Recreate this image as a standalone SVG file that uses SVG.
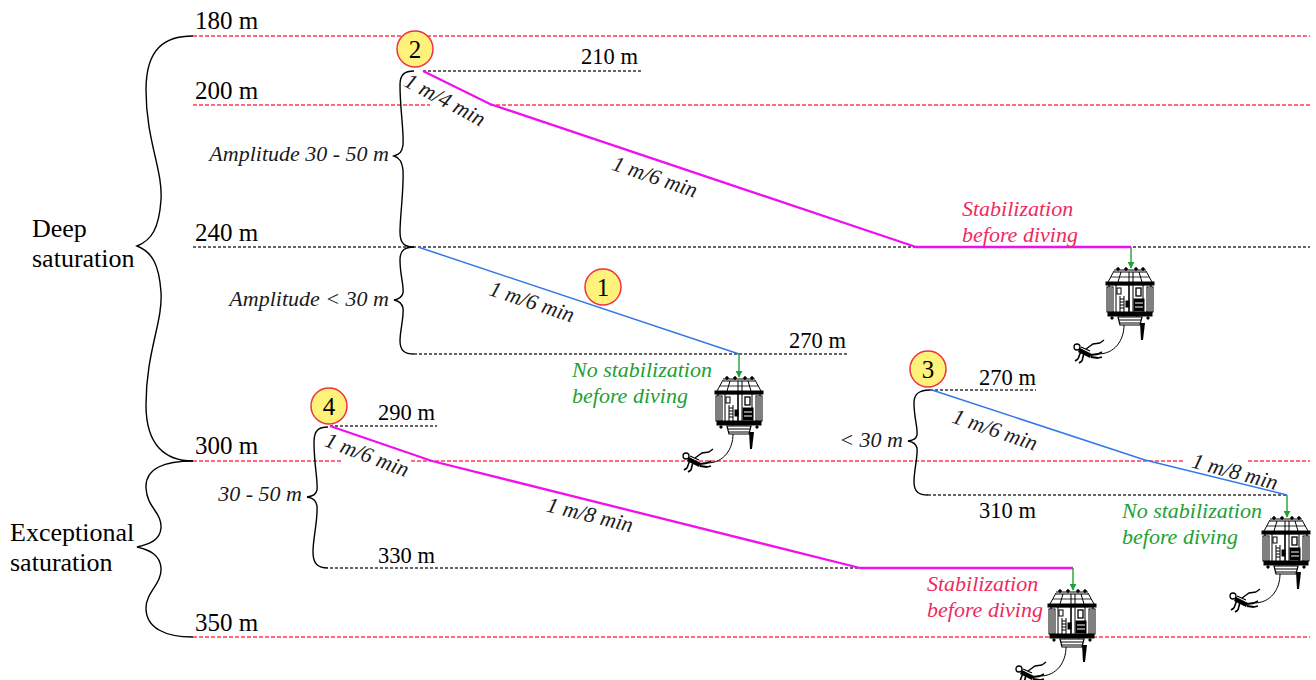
<svg xmlns="http://www.w3.org/2000/svg" xmlns:xlink="http://www.w3.org/1999/xlink" width="1316" height="680" viewBox="0 0 1316 680">
  <style>
    .depth { font-family: "Liberation Serif", "Times New Roman", serif; font-size: 25px; fill: #000; }
    .depth-s { font-family: "Liberation Serif", "Times New Roman", serif; font-size: 22.5px; fill: #000; text-anchor: end; }
    .zone { font-family: "Liberation Serif", "Times New Roman", serif; font-size: 26px; fill: #000; }
    .ital { font-family: "Liberation Serif", "Times New Roman", serif; font-size: 22px; font-style: italic; fill: #1a1a1a; }
    .rate { font-family: "Liberation Serif", "Times New Roman", serif; font-size: 22px; font-style: italic; fill: #1a1a1a; text-anchor: middle; }
    .stab { font-family: "Liberation Serif", "Times New Roman", serif; font-size: 22px; font-style: italic; fill: #EE2A5E; }
    .nostab { font-family: "Liberation Serif", "Times New Roman", serif; font-size: 22px; font-style: italic; fill: #22A032; }
    .red-dash { stroke: #FF3A55; stroke-width: 1.3; stroke-dasharray: 4 2; fill: none; }
    .blk-dash { stroke: #333; stroke-width: 1.3; stroke-dasharray: 3 2; fill: none; }
    .brace { stroke: #000; stroke-width: 1.4; fill: none; }
    .magenta { stroke: #EE11EE; stroke-width: 2.3; fill: none; stroke-linejoin: round; }
    .blue { stroke: #3377EE; stroke-width: 1.5; fill: none; stroke-linejoin: round; }
    .drop { stroke: #22A032; stroke-width: 1.4; fill: none; marker-end: url(#arrow-green); }
    .badge circle { fill: #FFF27A; stroke: #F03040; stroke-width: 1.5; }
    .badge text { font-family: "Liberation Serif", "Times New Roman", serif; font-size: 25px; fill: #000; text-anchor: middle; }
  </style>
  <defs>
    <marker id="arrow-green" viewBox="0 0 10 10" refX="9" refY="5" markerWidth="7" markerHeight="7" markerUnits="userSpaceOnUse" orient="auto">
      <path d="M0,0 L10,5 L0,10 Z" fill="#22A032"/>
    </marker>
    <!-- diving bell with a tethered diver; origin = top attachment point -->
    <g id="bell-icon" stroke="#000" fill="none" stroke-width="1">
      <!-- top frame -->
      <path d="M-17,2 H15 M-17,4 H15" stroke-width="1.2"/>
      <circle cx="-13" cy="1" r="1.3" fill="#000"/>
      <circle cx="-5" cy="1" r="1.3" fill="#000"/>
      <circle cx="5" cy="1" r="1.3" fill="#000"/>
      <circle cx="12" cy="1" r="1.3" fill="#000"/>
      <path d="M-17,3 L-23,14 M15,3 L21,14 M-10,4 L-13,14 M8,4 L11,14 M-2,4 V14 M2,4 V14"/>
      <path d="M-20,9 H18" stroke-width="0.8"/>
      <!-- rim -->
      <rect x="-25" y="14" width="48" height="3" fill="#000"/>
      <!-- body -->
      <rect x="-22" y="17" width="42" height="28" fill="#fff" stroke-width="1.3"/>
      <rect x="-24" y="19" width="6" height="25" fill="#fff"/>
      <path d="M-22,20 V43 M-20,20 V43"/>
      <rect x="16" y="19" width="6" height="25" fill="#fff"/>
      <path d="M18,20 V43 M20,20 V43"/>
      <path d="M-2,17 V45" stroke-width="1.6"/>
      <path d="M2,17 V45 M-15,17 V45 M12,17 V45"/>
      <rect x="5" y="20" width="5" height="8" stroke-width="1.3"/>
      <rect x="-14" y="20" width="4" height="6"/>
      <path d="M-11,28 V44 M-7,28 V44 M-11,31 H-7 M-11,34 H-7 M-11,37 H-7 M-11,40 H-7"/>
      <rect x="3" y="31" width="10" height="12" fill="#000"/>
      <path d="M4,35 H12 M4,39 H12" stroke="#fff"/>
      <rect x="-5" y="33" width="3" height="6" fill="#000"/>
      <!-- bottom ring -->
      <rect x="-23" y="44" width="44" height="4" fill="#000"/>
      <circle cx="-19" cy="50" r="1.2" fill="#000"/>
      <circle cx="17" cy="50" r="1.2" fill="#000"/>
      <circle cx="-8" cy="50" r="1.1" fill="#000"/>
      <circle cx="6" cy="50" r="1.1" fill="#000"/>
      <!-- trunk -->
      <path d="M-13,49 H11 L9,57 H-11 Z" fill="#fff" stroke-width="1.2"/>
      <path d="M-12,52 H10 M-11,55 H9"/>
      <path d="M9,55 L14,55 L12,72 L10,72 Z" fill="#000" stroke="none"/>
      <!-- umbilical -->
      <path d="M-7,57 C-7,72 -16,86 -33,86"/>
      <!-- diver -->
      <circle cx="-54" cy="79" r="3" fill="#fff" stroke-width="1.3"/>
      <path d="M-52,82 L-40,88" stroke-width="4.5"/>
      <path d="M-50,79 L-41,83" stroke-width="1.3"/>
      <path d="M-50,83 L-53,91 M-47,85 L-49,93 M-53,91 L-56,93 M-49,93 L-52,95" stroke-width="1.6"/>
      <path d="M-40,87 L-33,86 M-40,89 L-33,90" stroke-width="2"/>
      <path d="M-45,81 L-38,76 L-31,75 M-31,75 L-27,72" stroke-width="1.4"/>
      <path d="M-33,86 L-29,84 M-33,90 L-29,89" stroke-width="1.6"/>
    </g>
  </defs>

  <rect width="1316" height="680" fill="#fff"/>

  <!-- depth reference lines -->
  <g id="depth-grid">
    <line class="red-dash" x1="193" y1="36" x2="1310" y2="36"/>
    <line class="red-dash" x1="193" y1="105" x2="430" y2="105"/>
    <line class="red-dash" x1="490" y1="105" x2="1310" y2="105"/>
    <line class="blk-dash" x1="193" y1="247" x2="1310" y2="247"/>
    <line class="red-dash" x1="193" y1="461" x2="343" y2="461"/>
    <line class="red-dash" x1="411" y1="461" x2="1185" y2="461"/>
    <line class="red-dash" x1="1248" y1="461" x2="1310" y2="461"/>
    <line class="red-dash" x1="193" y1="637" x2="1310" y2="637"/>
    <line class="blk-dash" x1="423" y1="71" x2="643" y2="71"/>
    <line class="blk-dash" x1="414" y1="354" x2="848" y2="354"/>
    <line class="blk-dash" x1="330" y1="426" x2="437" y2="426"/>
    <line class="blk-dash" x1="330" y1="568" x2="860" y2="568"/>
    <line class="blk-dash" x1="930" y1="390" x2="1036" y2="390"/>
    <line class="blk-dash" x1="928" y1="495" x2="1287" y2="495"/>
    <text class="depth" x="195" y="29">180 m</text>
    <text class="depth" x="195" y="99">200 m</text>
    <text class="depth" x="195" y="241">240 m</text>
    <text class="depth" x="195" y="454">300 m</text>
    <text class="depth" x="195" y="631">350 m</text>
    <text class="depth-s" x="638" y="64">210 m</text>
    <text class="depth-s" x="846" y="348">270 m</text>
    <text class="depth-s" x="435" y="420">290 m</text>
    <text class="depth-s" x="435" y="563">330 m</text>
    <text class="depth-s" x="1036" y="385">270 m</text>
    <text class="depth-s" x="1036" y="518">310 m</text>
  </g>

  <!-- saturation zones -->
  <g id="zone-deep">
    <path class="brace" d="M193,36 C165,36 146,48 146,90 C146,140 163,170 161,200 C159,228 152,240 137,246 C152,252 159,264 161,292 C163,322 146,352 146,405 C146,445 165,461 193,461"/>
    <text class="zone" x="32" y="237">Deep</text>
    <text class="zone" x="32" y="267">saturation</text>
  </g>
  <g id="zone-exceptional">
    <path class="brace" d="M193,461 C165,461 145,468 146,488 C147,508 162,512 161,528 C160,540 150,544 137,547 C150,550 160,555 161,568 C162,584 146,592 146,608 C146,628 165,637 193,637"/>
    <text class="zone" x="10" y="541">Exceptional</text>
    <text class="zone" x="10" y="571">saturation</text>
  </g>

  <!-- amplitude braces -->
  <g id="amp-30-50">
    <path class="brace" d="M414,71 C405,71 400,74 400,85 C400,110 404,130 403,145 C402,152 400,154 394,156 C400,158 402,162 403,170 C404,190 400,215 400,232 C400,244 405,247 414,247"/>
    <text class="ital" x="389" y="161" text-anchor="end">Amplitude 30 - 50 m</text>
  </g>
  <g id="amp-lt-30">
    <path class="brace" d="M414,247 C405,247 400,250 400,260 C400,275 404,285 403,293 C402,297 400,299 394,300 C400,301 402,304 403,308 C404,318 400,330 400,341 C400,351 405,354 414,354"/>
    <text class="ital" x="389" y="306" text-anchor="end">Amplitude &lt; 30 m</text>
  </g>
  <g id="amp-lt-30-b">
    <path class="brace" d="M930,390 C920,390 914,393 914,403 C914,418 918,428 917,435 C916,439 914,440 908,441 C914,442 916,444 917,448 C918,456 914,470 914,482 C914,492 919,495 928,495"/>
    <text class="ital" x="903" y="447" text-anchor="end">&lt; 30 m</text>
  </g>
  <g id="amp-30-50-b">
    <path class="brace" d="M328,427 C319,427 314,430 314,442 C314,465 318,480 317,490 C316,494 314,496 307,497 C314,498 316,501 317,506 C318,520 313,538 313,552 C313,564 318,568 328,568"/>
    <text class="ital" x="302" y="501" text-anchor="end">30 - 50 m</text>
  </g>

  <!-- decompression profiles -->
  <g id="connectors">
    <polyline class="magenta" points="423,71 490,104 916,247 1131,247"/>
    <line class="drop" x1="1131" y1="247" x2="1131" y2="268"/>
    <polyline class="blue" points="418,247 739,354"/>
    <line class="drop" x1="739" y1="354" x2="739" y2="377"/>
    <polyline class="blue" points="932,390 1145,460 1287,495"/>
    <line class="drop" x1="1287" y1="495" x2="1287" y2="517"/>
    <polyline class="magenta" points="330,426 432,461 860,568 1073,568"/>
    <line class="drop" x1="1073" y1="568" x2="1073" y2="590"/>
  </g>

  <!-- ascent rate labels -->
  <g id="rates">
    <text class="rate" transform="translate(445,100) rotate(28)" y="7">1 m/4 min</text>
    <text class="rate" transform="translate(655,177) rotate(18.6)" y="7">1 m/6 min</text>
    <text class="rate" transform="translate(532,302) rotate(18.4)" y="7">1 m/6 min</text>
    <text class="rate" transform="translate(995,430) rotate(19)" y="7">1 m/6 min</text>
    <text class="rate" transform="translate(1235,472) rotate(15)" y="7">1 m/8 min</text>
    <text class="rate" transform="translate(367,455) rotate(21)" y="7">1 m/6 min</text>
    <text class="rate" transform="translate(590,515) rotate(14)" y="7">1 m/8 min</text>
  </g>

  <!-- outcome notes -->
  <g id="note-1">
    <text class="nostab" x="572" y="377">No stabilization</text>
    <text class="nostab" x="572" y="403">before diving</text>
  </g>
  <g id="note-2">
    <text class="stab" x="962" y="216">Stabilization</text>
    <text class="stab" x="962" y="242">before diving</text>
  </g>
  <g id="note-3">
    <text class="nostab" x="1122" y="518">No stabilization</text>
    <text class="nostab" x="1122" y="544">before diving</text>
  </g>
  <g id="note-4">
    <text class="stab" x="927" y="591">Stabilization</text>
    <text class="stab" x="927" y="617">before diving</text>
  </g>

  <!-- bells -->
  <g id="bell-1"><use xlink:href="#bell-icon" href="#bell-icon" transform="translate(740,377)"/></g>
  <g id="bell-2"><use xlink:href="#bell-icon" href="#bell-icon" transform="translate(1131,268)"/></g>
  <g id="bell-3"><use xlink:href="#bell-icon" href="#bell-icon" transform="translate(1287,517)"/></g>
  <g id="bell-4"><use xlink:href="#bell-icon" href="#bell-icon" transform="translate(1073,590)"/></g>

  <!-- scenario numbers -->
  <g id="badge-1" class="badge"><circle cx="603" cy="287" r="18"/><text x="603" y="296">1</text></g>
  <g id="badge-2" class="badge"><circle cx="415" cy="49" r="18"/><text x="415" y="58">2</text></g>
  <g id="badge-3" class="badge"><circle cx="928" cy="369" r="18"/><text x="928" y="378">3</text></g>
  <g id="badge-4" class="badge"><circle cx="329" cy="406" r="18"/><text x="329" y="415">4</text></g>
</svg>
